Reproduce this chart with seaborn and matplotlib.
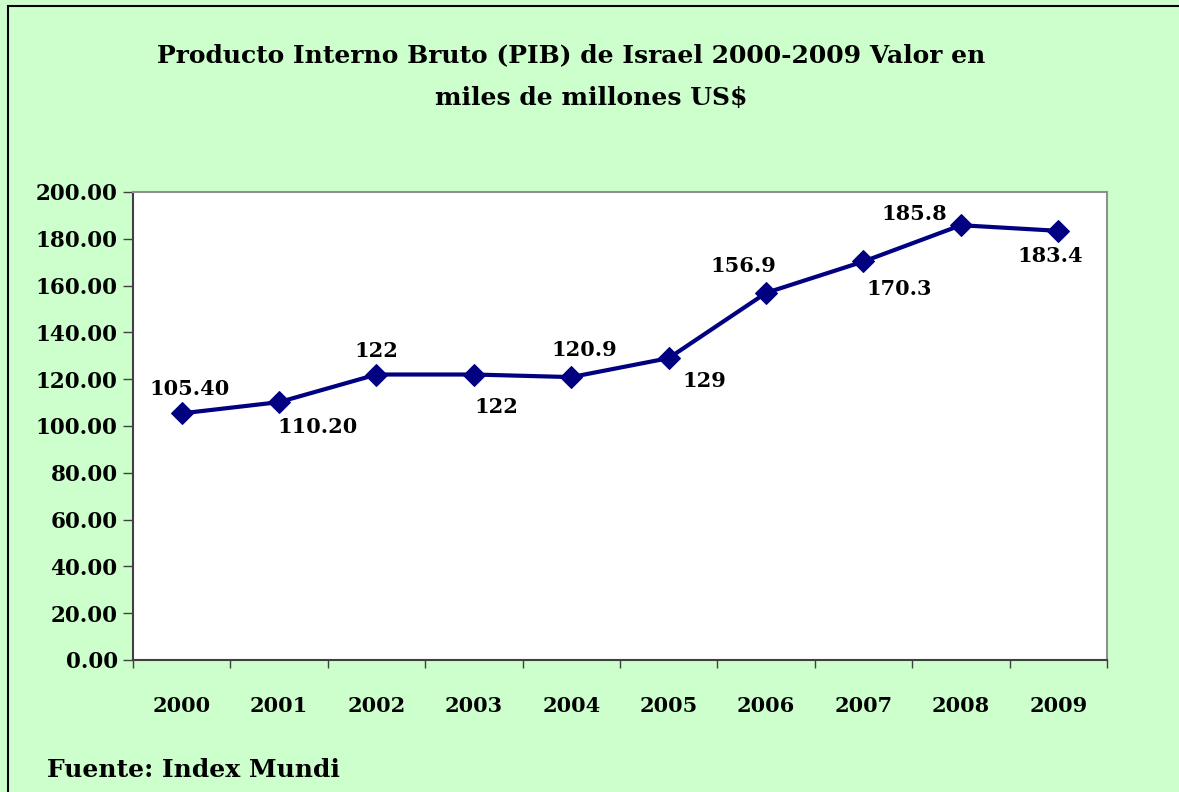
import numpy as np
import pandas as pd
import matplotlib
matplotlib.use('Agg')
import matplotlib.pyplot as plt
from matplotlib.patches import Rectangle
import seaborn as sns

years = ['2000', '2001', '2002', '2003', '2004', '2005', '2006', '2007', '2008', '2009']
pib = [105.4, 110.2, 122.0, 122.0, 120.9, 129.0, 156.9, 170.3, 185.8, 183.4]
point_labels = ['105.40', '110.20', '122', '122', '120.9', '129', '156.9', '170.3', '185.8', '183.4']
y_ticks = [0, 20, 40, 60, 80, 100, 120, 140, 160, 180, 200]

# label offsets in pixels (dx, dy) from each point, like the original chart
label_offsets = [(8, 24), (38, -25), (0, 24), (22, -32), (13, 27),
                 (36, -23), (-23, 27), (36, -28), (-47, 11), (-8, -25)]

sns.set_style('white')
plt.rcParams['font.family'] = ['DejaVu Serif']
plt.rcParams['font.weight'] = 'bold'
plt.rcParams['text.color'] = 'black'
plt.rcParams['xtick.color'] = 'black'
plt.rcParams['ytick.color'] = 'black'

bg = '#CCFFCC'
navy = '#000080'

fig = plt.figure(figsize=(11.79, 7.92), dpi=100)
fig.patch.set_facecolor(bg)
W, H = 1179, 792
ax = fig.add_axes([133 / W, 1 - 660 / H, (1107 - 133) / W, (660 - 192) / H])
ax.set_facecolor('white')

df = pd.DataFrame({'x': np.arange(len(years)), 'pib': pib})
sns.lineplot(data=df, x='x', y='pib', ax=ax, color=navy, linewidth=3,
             marker='D', markersize=11, markeredgecolor=navy, markerfacecolor=navy)

for i, (v, lab) in enumerate(zip(pib, point_labels)):
    dx, dy = label_offsets[i]
    ax.annotate(lab, (i, v), xytext=(dx, dy), textcoords='offset pixels',
                ha='center', va='center', fontsize=15, fontweight='bold', color='black')

ax.set_xlim(-0.5, len(years) - 0.5)
ax.set_ylim(0, 200)
ax.set_yticks(y_ticks)
ax.set_yticklabels([f'{t:.2f}' for t in y_ticks], fontsize=15.5, fontweight='bold')

ax.set_xticks(np.arange(-0.5, len(years), 1.0))
ax.set_xticklabels([])
ax.set_xticks(np.arange(len(years)), minor=True)
ax.set_xticklabels(years, minor=True, fontsize=15, fontweight='bold')
ax.tick_params(axis='x', which='major', direction='out', length=6, width=1, color='#404040', bottom=True)
ax.tick_params(axis='x', which='minor', length=0, pad=26)
ax.tick_params(axis='y', direction='out', length=7, width=1, color='#404040', left=True, pad=4)

ax.set_xlabel('')
ax.set_ylabel('')
for side in ['left', 'bottom']:
    ax.spines[side].set_color('#404040')
    ax.spines[side].set_linewidth(1.5)
for side in ['top', 'right']:
    ax.spines[side].set_color('#909090')
    ax.spines[side].set_linewidth(1.5)

fig.text(571 / W, 1 - 55 / H, 'Producto Interno Bruto (PIB) de Israel 2000-2009 Valor en',
         ha='center', va='center', fontsize=18, fontweight='bold')
fig.text(591 / W, 1 - 98 / H, 'miles de millones US$',
         ha='center', va='center', fontsize=18, fontweight='bold')
fig.text(47 / W, 1 - 770 / H, 'Fuente: Index Mundi',
         ha='left', va='center', fontsize=18, fontweight='bold')

# outer frame of the chart area (left and top edges visible)
fig.patches.append(Rectangle((8 / W, -0.1), 1.2, 1 - 6 / H + 0.1, transform=fig.transFigure,
                             fill=False, edgecolor='black', linewidth=1.5))

fig.savefig('out.png', dpi=100, facecolor=bg)
